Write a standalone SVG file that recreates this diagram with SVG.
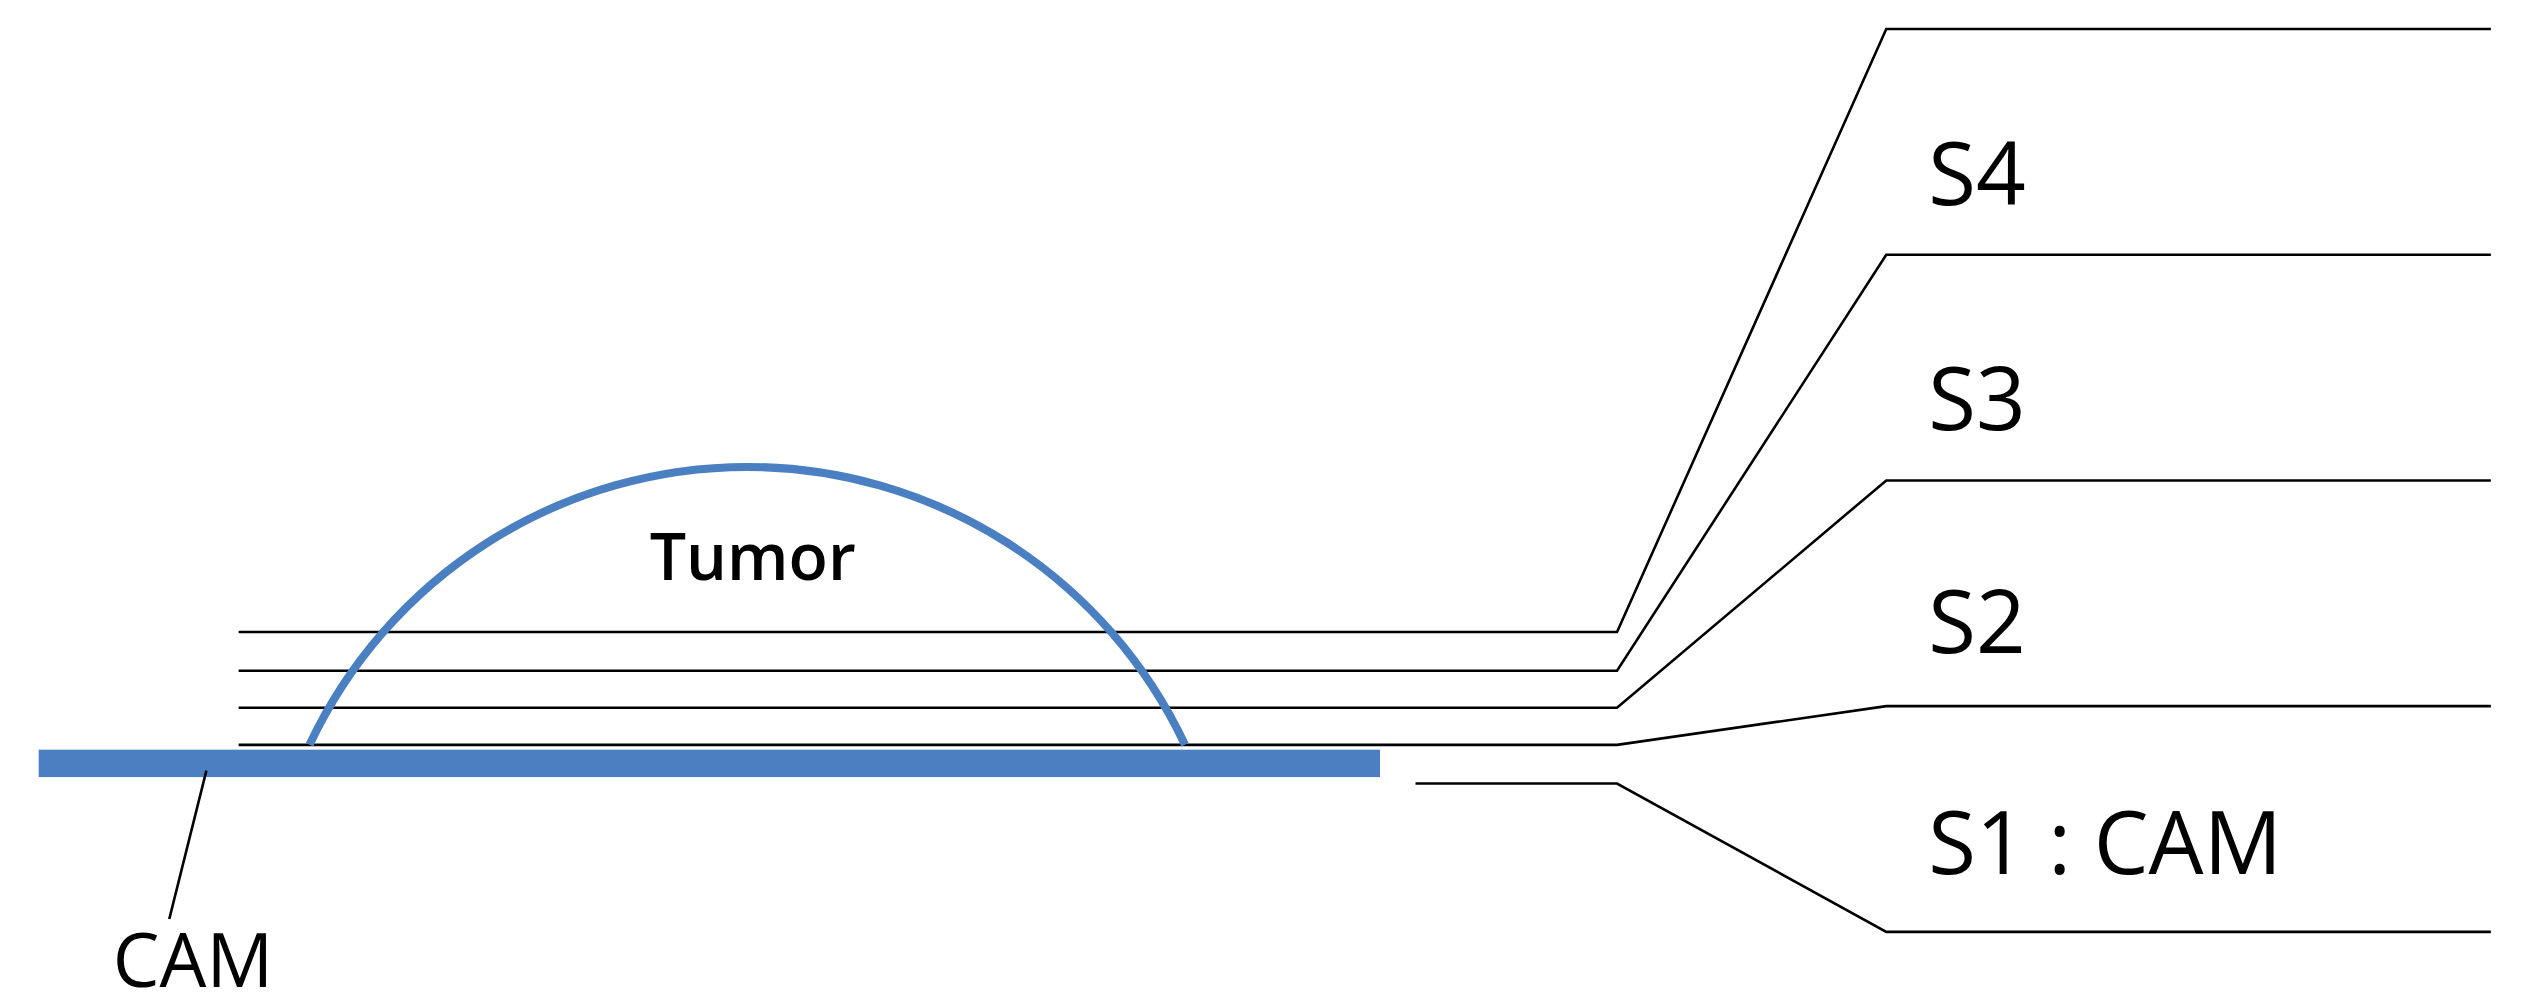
<svg xmlns="http://www.w3.org/2000/svg" width="2528" height="1008" viewBox="0 0 2528 1008">
<style>
.l{stroke:#000;stroke-width:1.6;fill:none}
.t{font-family:"Open Sans","Liberation Sans",sans-serif;fill:#000}
</style>
<rect width="2528" height="1008" fill="#fff"/>
<g transform="scale(1.6122)">
<g id="cam">
<rect x="24" y="465" width="832" height="17" fill="#4a7fc1"/>
<line class="l" x1="128" y1="478" x2="105" y2="570"/>
<text class="t" x="70" y="612" font-size="46">CAM</text>
</g>
<g id="connectors">
<polyline class="l" points="148,392 1003,392 1170,18 1545,18"/>
<polyline class="l" points="148,416 1003,416 1170,158 1545,158"/>
<polyline class="l" points="148,439 1003,439 1170,298 1545,298"/>
<polyline class="l" points="148,462 1003,462 1170,438 1545,438"/>
<polyline class="l" points="878,486 1003,486 1170,578 1545,578"/>
</g>
<g id="tumor">
<path d="M192,462 A300,300 0 0 1 735,462" fill="none" stroke="#4a7fc1" stroke-width="5"/>
<text class="t" x="403" y="360" font-size="40" font-weight="600">Tumor</text>
</g>
<g id="labels">
<text class="t" x="1196" y="127" font-size="54">S4</text>
<text class="t" x="1196" y="267" font-size="54">S3</text>
<text class="t" x="1196" y="405" font-size="54">S2</text>
<text class="t" x="1196" y="542" font-size="54">S1 : CAM</text>
</g>
</g>
</svg>
